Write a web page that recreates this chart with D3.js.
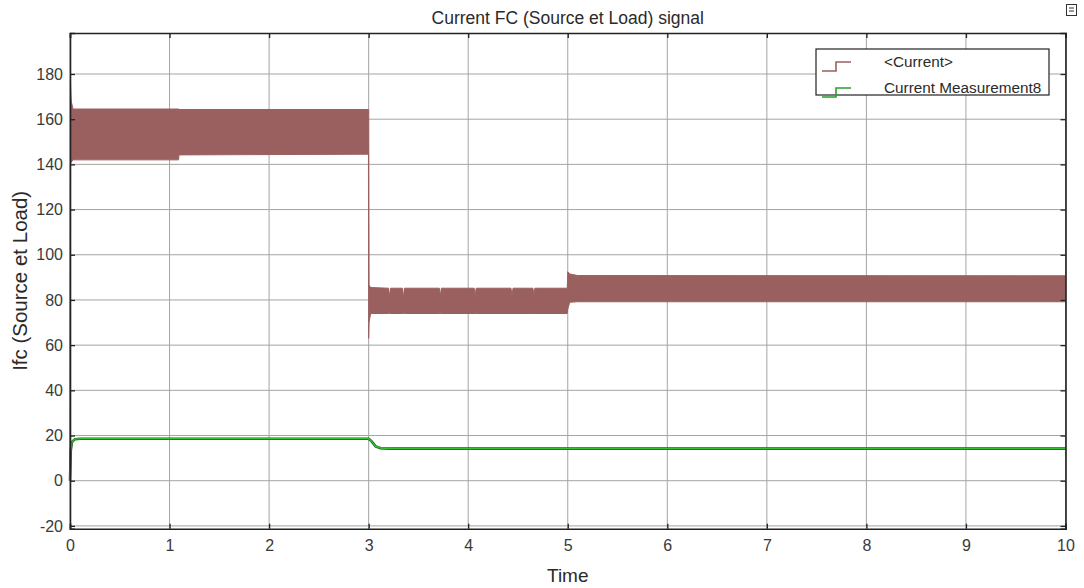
<!DOCTYPE html>
<html lang="en">
<head>
<meta charset="UTF-8">
<title>Current FC (Source et Load) signal</title>
<script src="https://cdn.jsdelivr.net/npm/d3@7"></script>
<style>
  body { margin: 0; background: #fff; }
  svg text { font-family: "Liberation Sans", Arial, sans-serif; }
</style>
</head>
<body>
<svg id="chart" width="1084" height="588"></svg>
<script>
// x ticks / y ticks
const xTicks = [0, 1, 2, 3, 4, 5, 6, 7, 8, 9, 10]
const yTicks = [-20, 0, 20, 40, 60, 80, 100, 120, 140, 160, 180]

// <Current> : the fast oscillation is shown as its envelope (lo / hi)
const curT  = [0, 0.004, 0.012, 0.03, 1.09, 1.095, 2.998, 3.0, 3.004, 3.02, 3.2, 3.21, 3.22, 3.34, 3.35, 3.36, 3.71, 3.72, 3.73, 4.06, 4.07, 4.08, 4.43, 4.44, 4.45, 4.65, 4.66, 4.67, 4.995, 5.0, 5.02, 5.1, 10]
const curLo = [0, 140, 141, 142, 142, 144.2, 144.5, 63, 70, 74, 74, 74, 74, 74, 74, 74, 74, 74, 74, 74, 74, 74, 74, 74, 74, 74, 74, 74, 74, 76, 79, 79.2, 79.2]
const curHi = [0, 177, 168, 164.5, 164.5, 164.3, 164.3, 164.3, 86.6, 85.5, 85.2, 81.5, 85.2, 85.2, 81, 85.2, 85.2, 81.5, 85.2, 85.2, 81.8, 85.2, 85.2, 81.5, 85.2, 85.2, 82, 85.2, 85.2, 92.5, 91.5, 90.8, 90.7]

// Current Measurement8
const greenT = [0, 0.008, 0.02, 0.05, 0.1, 3.0, 3.03, 3.07, 3.12, 3.2, 10]
const greenV = [0, 13.5, 17.2, 18.4, 18.6, 18.6, 17.4, 15.2, 14.4, 14.2, 14.2]

const legendNames = ["<Current>", "Current Measurement8"]
const colors = ["#9a6060", "#2aa02a"]

const svg = d3.select("#chart")
const x = d3.scaleLinear().domain([0, 10]).range([70, 1065.5])
const y = d3.scaleLinear().domain([-21.24, 198.15]).range([528.7, 33])

// grid
svg.append("g")
  .selectAll("line").data(xTicks).join("line")
  .attr("x1", d => x(d)).attr("x2", d => x(d))
  .attr("y1", y.range()[1]).attr("y2", y.range()[0])
  .attr("stroke", "#a4a4a4").attr("stroke-width", 1)
svg.append("g")
  .selectAll("line").data(yTicks).join("line")
  .attr("y1", d => y(d)).attr("y2", d => y(d))
  .attr("x1", x.range()[0]).attr("x2", x.range()[1])
  .attr("stroke", "#a4a4a4").attr("stroke-width", 1)

// current envelope
const curData = curT.map((t, i) => ({ t: t, lo: curLo[i], hi: curHi[i] }))
const area = d3.area()
  .x(d => x(d.t))
  .y0(d => y(d.lo))
  .y1(d => y(d.hi))
svg.append("path")
  .attr("d", area(curData))
  .attr("fill", colors[0])
  .attr("stroke", colors[0])
  .attr("stroke-width", 1)

// green line
const greenData = greenT.map((t, i) => ({ t: t, v: greenV[i] }))
const line = d3.line().x(d => x(d.t)).y(d => y(d.v))
svg.append("path")
  .attr("d", line(greenData))
  .attr("fill", "none").attr("stroke", "#1f5f1f").attr("stroke-width", 2.6)
svg.append("path")
  .attr("d", line(greenData))
  .attr("fill", "none").attr("stroke", "#33c033").attr("stroke-width", 1.3)

// axes (ticks inside, MATLAB style)
const fmt = d => String(d)   // plain hyphen for negatives
const xAxis = d3.axisBottom(x).tickValues(xTicks).tickSize(-5).tickPadding(11).tickFormat(fmt)
const yAxis = d3.axisLeft(y).tickValues(yTicks).tickSize(-5).tickPadding(7).tickFormat(fmt)
svg.append("g").attr("transform", `translate(0,${y.range()[0]})`).call(xAxis)
svg.append("g").attr("transform", `translate(${x.range()[0]},0)`).call(yAxis)
svg.append("g").attr("transform", `translate(0,${y.range()[1]})`)
  .call(d3.axisTop(x).tickValues(xTicks).tickSize(-5).tickFormat(""))
svg.append("g").attr("transform", `translate(${x.range()[1]},0)`)
  .call(d3.axisRight(y).tickValues(yTicks).tickSize(-5).tickFormat(""))
svg.selectAll(".domain").attr("stroke", "#222").attr("stroke-width", 1.6)
svg.selectAll(".tick line").attr("stroke", "#222").attr("stroke-width", 1.3)
svg.selectAll(".tick text").attr("font-size", 16).attr("fill", "#3a3a3a")
  .attr("font-family", "Liberation Sans, Arial, sans-serif")

// title & labels
svg.append("text").attr("x", (x.range()[0] + x.range()[1]) / 2).attr("y", 24)
  .attr("text-anchor", "middle").attr("font-size", 17.5).attr("fill", "#2a2a2a")
  .text("Current FC (Source et Load) signal")
svg.append("text").attr("x", (x.range()[0] + x.range()[1]) / 2).attr("y", 582)
  .attr("text-anchor", "middle").attr("font-size", 19).attr("fill", "#2a2a2a")
  .text("Time")
svg.append("text").attr("transform", `translate(27,${(y.range()[0] + y.range()[1]) / 2}) rotate(-90)`)
  .attr("text-anchor", "middle").attr("font-size", 20.5).attr("fill", "#2a2a2a")
  .text("Ifc (Source et Load)")

// legend
const lg = svg.append("g").attr("transform", "translate(816,49)")
lg.append("rect").attr("width", 233).attr("height", 46)
  .attr("fill", "#fff").attr("stroke", "#222").attr("stroke-width", 1.2)
legendNames.forEach((name, i) => {
  const cy = 13 + i * 26
  lg.append("path")
    .attr("d", `M6,${cy + 9}H20V${cy}H35`)
    .attr("fill", "none").attr("stroke", colors[i]).attr("stroke-width", 1.6)
  lg.append("text").attr("x", 68).attr("y", cy + 5)
    .attr("font-size", 15.3).attr("fill", "#2a2a2a").text(name)
})

// little undock icon at the corner
const ic = svg.append("g").attr("transform", "translate(1066,4)")
ic.append("rect").attr("x", 0.5).attr("y", 0.5).attr("width", 10).attr("height", 11)
  .attr("fill", "#fff").attr("stroke", "#333")
ic.append("path").attr("d", "M3,4H8M3,7H8").attr("stroke", "#333")
</script>
</body>
</html>
